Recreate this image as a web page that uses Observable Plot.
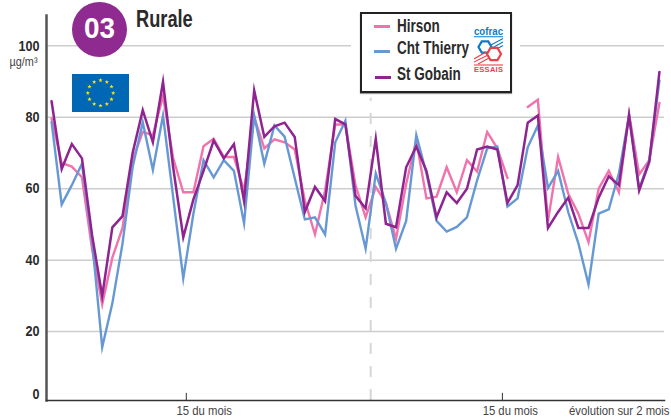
<!DOCTYPE html>
<html lang="fr">
<head>
<meta charset="utf-8">
<script src="https://cdn.jsdelivr.net/npm/d3@7"></script>
<script src="https://cdn.jsdelivr.net/npm/@observablehq/plot@0.6"></script>
<style>
html,body{margin:0;padding:0;background:#fff;}
#wrap{position:relative;width:671px;height:420px;overflow:hidden;font-family:"Liberation Sans",sans-serif;}
#wrap>svg{position:absolute;left:0;top:0;}
.abs{position:absolute;}
#badge{left:72px;top:2px;width:55px;height:55px;border-radius:50%;background:#8f2a90;}
#badge span{position:absolute;left:0;width:55px;top:0;text-align:center;color:#fff;font-weight:700;font-size:30px;line-height:51px;transform:scaleX(.93);}
#title{left:136px;top:5px;font-weight:700;font-size:24px;line-height:28px;color:#2a2a2a;transform:scaleX(.76);transform-origin:0 50%;}
#halo{left:351px;top:8px;width:169px;height:88px;background:#fff;}
#legend{left:360px;top:12px;width:148px;height:77px;border:2px solid #222;background:#fff;box-shadow:0 1px 1px #999;}
.sw{position:absolute;width:16px;height:2.5px;}
.lb{position:absolute;left:35px;font-weight:700;font-size:18px;line-height:20px;color:#2a2a2a;white-space:nowrap;transform:scaleX(.75);transform-origin:0 50%;}
</style>
</head>
<body>
<div id="wrap"></div>
<script>
const hirson = [79.7,67.2,66.2,63.2,43,27.6,40.7,49,68,75.9,75,86,68.6,59,59,71.9,74,68.9,68.9,59.5,80,71.3,73.8,73,71,56.7,47.2,59.5,78,78,61,52,60.5,56,46,61.3,73.5,57.3,57.8,66,59,68,64.8,75.9,71.3,63,null,82.9,84.9,51,68.9,58.6,53,45,60,65,59,81,64,68,84];
const chtThierry = [78.7,55.6,61,67,45.5,15.6,27.9,44.6,66,78.6,65.3,80.5,57.7,34.9,53,68,63.2,68,65,50.3,80.5,67,77.7,74.6,63,51.4,52,47.2,73,79,55.3,43.2,64.3,56,43.2,51,75,64.3,51,48,49.3,52,62.3,71.3,71.8,55,57.3,71.6,77.7,60.2,65,53.4,44.7,33.2,53,54.2,64.3,80.5,60,68,90.3];
const stGobain = [84.5,65.5,72.5,68.5,47,30,49.2,52.3,70,82,73,89.9,66,46.4,57,65,73.5,68.5,72.5,56.5,87.5,74.5,77.5,78.5,74.5,53.5,60.5,56.5,79.5,78,58,54.5,74,50.2,49.2,66,71.8,65,52,59,56,60,71,71.8,71,56,61,78.5,80.5,49,53.5,57.5,49,49,57.5,63.5,61,80.5,59.5,67.5,92.7];
const yTicks = [20,40,60,80,100];
const xTickPositions = [13.3,44.5];
const xLabelPositions = [12.34,42.55];
const xTickLabel = "15 du mois";
const monthDivider = [31.5];
const seriesNames = ["Hirson","Cht Thierry","St Gobain"];
const seriesColors = ["#f272ab","#6699d3","#8e2490"];

const font = '"Liberation Sans",sans-serif';
const yMin = 0.7, yMax = 108.5, xMin = -0.5, xMax = 60.5;
const lineOpts = {x:(d,i)=>i, strokeWidth:2.4, strokeLinejoin:"miter", strokeMiterlimit:8};

const chart = Plot.plot({
  width:671, height:420,
  marginLeft:46, marginRight:7, marginTop:15, marginBottom:20,
  style:{background:"transparent",fontFamily:font},
  x:{domain:[xMin,xMax],axis:null},
  y:{domain:[yMin,yMax],axis:null},
  marks:[
    Plot.ruleY(yTicks,{stroke:"#cdcdcd",strokeWidth:1.5}),
    Plot.ruleX(monthDivider,{y1:yMin,y2:85.3,stroke:"#d6d6d6",strokeWidth:2,strokeDasharray:"11 12"}),
    Plot.lineY(hirson,{...lineOpts,stroke:seriesColors[0]}),
    Plot.lineY(chtThierry,{...lineOpts,stroke:seriesColors[1]}),
    Plot.lineY(stGobain,{...lineOpts,stroke:seriesColors[2],strokeWidth:2.5}),
    Plot.frame({anchor:"left",stroke:"#555",strokeWidth:2.5}),
    Plot.frame({anchor:"bottom",stroke:"#333",strokeWidth:1.5}),
    Plot.ruleX(xTickPositions,{y1:yMin,y2:2.7,stroke:"#333",strokeWidth:1}),
    Plot.axisY(yTicks,{tickSize:0,tickPadding:7,label:null,fontSize:14.5,fontWeight:700,fill:"#2a2a2a"}),
    Plot.text(["0"],{x:()=>xMin,y:()=>yMin,dx:-7,dy:-6,textAnchor:"end",fontSize:14.5,fontWeight:700,fill:"#2a2a2a"}),
    Plot.text(["µg/m³"],{x:()=>xMin,y:()=>95.6,dx:-9,textAnchor:"end",fontSize:12.5,fill:"#444"}),
    Plot.text(xLabelPositions,{x:d=>d,y:()=>yMin,text:()=>xTickLabel,dy:10,textAnchor:"start",fontSize:13,fill:"#444"}),
    Plot.text(["évolution sur 2 mois"],{x:()=>xMax,y:()=>yMin,dy:10,dx:5,textAnchor:"end",fontSize:13,fill:"#444"})
  ]
});

const wrap = document.getElementById("wrap");
wrap.appendChild(chart);

// The original uses a condensed face: narrow the installed one around each text's anchor.
chart.querySelectorAll("text").forEach(t=>{
  const tr = t.getAttribute("transform") || "";
  t.setAttribute("transform", tr + " scale(0.87,1)");
});

function star(cx,cy,r){
  let p=[];
  for(let k=0;k<10;k++){
    const a=-Math.PI/2+k*Math.PI/5, q=k%2?r*0.4:r;
    p.push((cx+q*Math.cos(a)).toFixed(2)+","+(cy+q*Math.sin(a)).toFixed(2));
  }
  return `<polygon points="${p.join(" ")}" fill="#ffe600"/>`;
}
function hex(cx,cy,r){
  let p=[];
  for(let k=0;k<6;k++){
    const a=k*Math.PI/3;
    p.push((cx+r*Math.cos(a)).toFixed(2)+","+(cy+r*Math.sin(a)).toFixed(2));
  }
  return p.join(" ");
}
let stars="";
for(let k=0;k<12;k++){
  const a=k*Math.PI/6;
  stars+=star(28.5+12.7*Math.sin(a),19-12.7*Math.cos(a),2.3);
}
const blue="#0b7dc2", red="#ee4048";
const extras = document.createElement("div");
extras.innerHTML = `
<div class="abs" id="badge"><span>03</span></div>
<div class="abs" id="title">Rurale</div>
<svg class="abs" style="left:72px;top:74px" width="57" height="38"><rect width="57" height="38" fill="#0067b4"/>${stars}</svg>
<div class="abs" id="halo"></div>
<div class="abs" id="legend">
  <div class="sw" style="left:12px;top:11px;background:${seriesColors[0]}"></div>
  <div class="sw" style="left:12px;top:36px;background:${seriesColors[1]}"></div>
  <div class="sw" style="left:13px;top:62px;background:${seriesColors[2]}"></div>
  <div class="lb" style="top:2px">${seriesNames[0]}</div>
  <div class="lb" style="top:24px">${seriesNames[1]}</div>
  <div class="lb" style="top:50px">${seriesNames[2]}</div>
  <svg style="position:absolute;left:112px;top:13px" width="31" height="48" font-family="Liberation Sans">
    <text x="0" y="7.5" font-size="10" font-weight="700" fill="${blue}" textLength="29" lengthAdjust="spacingAndGlyphs">cofrac</text>
    <path d="M0 9.7L29 9.7M17 18L29 11.5M19 20.5L29 15M21 23L29 18.5" stroke="${blue}" stroke-width="1.1" fill="none"/>
    <polygon points="${hex(11,20,6.5)}" stroke="${blue}" stroke-width="2.2" fill="#fff"/>
    <path d="M0 32L12 25M0 35L14 28M4 37L15 31" stroke="${red}" stroke-width="1.1" fill="none"/>
    <polygon points="${hex(20,27,7)}" stroke="${red}" stroke-width="2.2" fill="#fff"/>
    <path d="M0 38L29 38" stroke="${red}" stroke-width="1.1"/>
    <text x="0" y="45" font-size="7.5" font-weight="700" fill="${red}" textLength="29" lengthAdjust="spacing">ESSAIS</text>
  </svg>
</div>`;
wrap.appendChild(extras);
</script>
</body>
</html>
